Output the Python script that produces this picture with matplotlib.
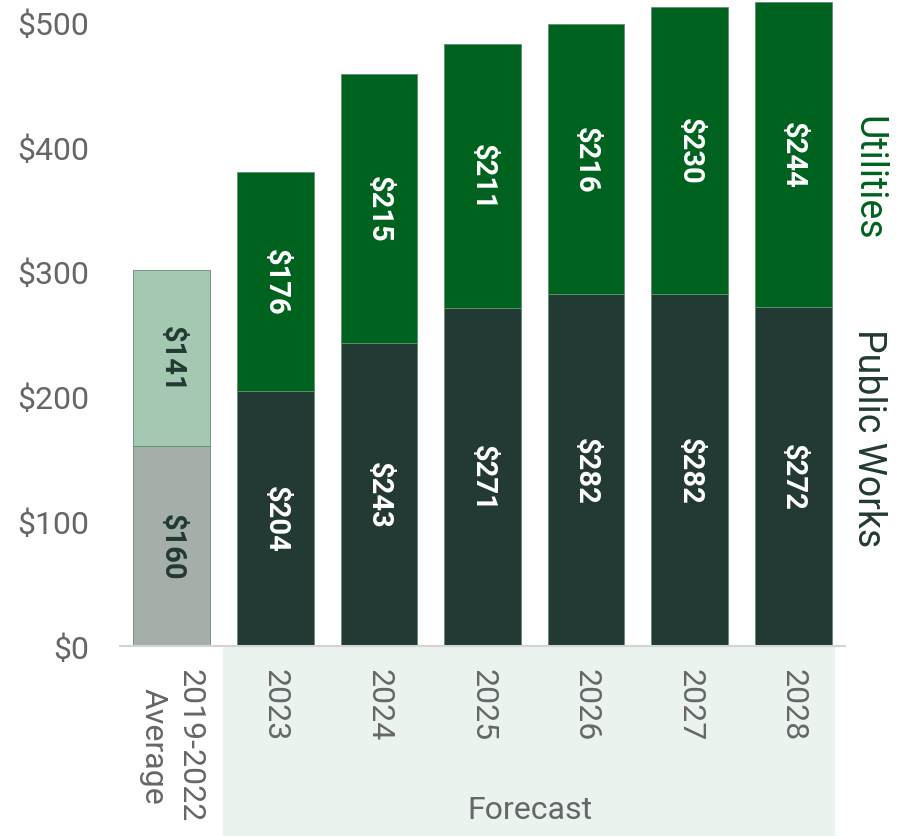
import matplotlib
matplotlib.use("Agg")
from matplotlib import pyplot as plt
from matplotlib.patches import Rectangle
from matplotlib.transforms import blended_transform_factory
import numpy as np

plt.rcParams['font.family'] = ['Roboto', 'DejaVu Sans']

categories = ["2019-2022\nAverage", "2023", "2024", "2025", "2026", "2027", "2028"]
public_works = [160, 204, 243, 271, 282, 282, 272]
utilities = [141, 176, 215, 211, 216, 230, 244]
y_ticks = [0, 100, 200, 300, 400, 500]

DARK = '#223a33'
GREEN = '#00621f'
GRAY = '#666666'

fig = plt.figure(figsize=(9.02, 8.37), dpi=100)
ax = fig.add_axes([120/902, 1 - 647/837, 725/902, 647/837])

x = np.arange(len(categories))
bottom_colors = ['#a6aeaa'] + [DARK]*(len(x)-1)
top_colors = ['#a4c8b2'] + [GREEN]*(len(x)-1)
w = 0.74

ax.bar(x, public_works, w, color=bottom_colors, edgecolor='#5f8f70', linewidth=0.6, zorder=2)
ax.bar(x, utilities, w, bottom=public_works, color=top_colors, edgecolor='#5f8f70', linewidth=0.6, zorder=2)

for i in range(len(x)):
    tc = DARK if i == 0 else 'white'
    ax.text(x[i], public_works[i]/2, '$%d' % public_works[i], rotation=-90, ha='center', va='center',
            color=tc, fontsize=21, fontweight='bold', zorder=3)
    ax.text(x[i], public_works[i] + utilities[i]/2, '$%d' % utilities[i], rotation=-90, ha='center',
            va='center', color=tc, fontsize=21, fontweight='bold', zorder=3)

ax.set_xlim(-0.5, 6.5)
ax.set_ylim(0, 647/1.248)
ax.set_yticks(y_ticks)
ax.set_yticklabels(['$%d' % v for v in y_ticks])
ax.set_xticks(x)
ax.set_xticklabels(categories, rotation=-90, va='top', ha='center', multialignment='center',
                   linespacing=1.35)
ax.tick_params(axis='y', length=0, pad=22, labelsize=23, labelcolor=GRAY)
ax.tick_params(axis='x', length=0, pad=16, labelsize=23, labelcolor=GRAY)
for s in ['top', 'right', 'left']:
    ax.spines[s].set_visible(False)
ax.spines['bottom'].set_color('#d3d3d3')
ax.spines['bottom'].set_linewidth(1.5)
ax.spines['bottom'].set_zorder(4)

# forecast band under the axis
tr = blended_transform_factory(ax.transData, fig.transFigure)
fig.patches.append(Rectangle((0.49, 0), 6.4 - 0.49, 1 - 648/837, transform=tr,
                             facecolor='#eaf3ee', edgecolor='none', zorder=-1))
fig.text(530/902, 1 - 811/837, 'Forecast', ha='center', va='center', fontsize=23, color=GRAY)

# series labels on the right
fig.text(868/902, 1 - 178/837, 'Utilities', rotation=-90, ha='center', va='center', fontsize=27, color=GREEN)
fig.text(868/902, 1 - 438/837, 'Public Works', rotation=-90, ha='center', va='center', fontsize=27, color=DARK)

fig.savefig('out.png', dpi=100)
